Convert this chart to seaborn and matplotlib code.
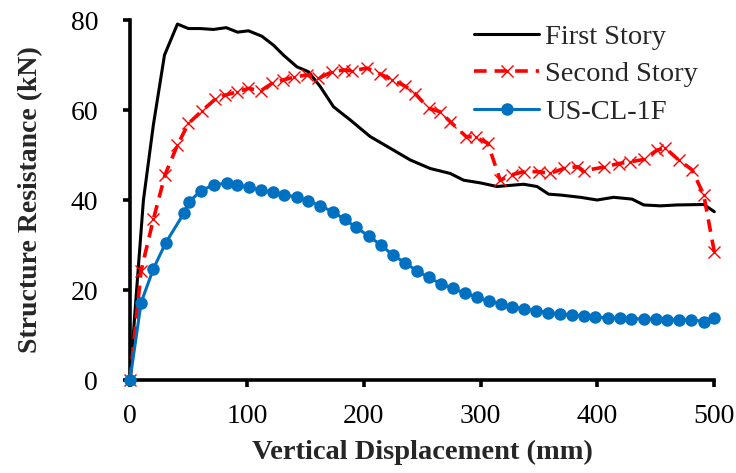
import matplotlib
matplotlib.use("Agg")
import matplotlib.pyplot as plt
import seaborn as sns
import pandas as pd

# Load-displacement curves (displacement in mm, resistance in kN)
first_x = [0, 4.5, 11.5, 20, 29.5, 40.6, 50, 60, 71.4, 82.3, 92, 101.4, 112.8, 122.8,
           131.3, 142.8, 152.7, 162.8, 174.2, 188.4, 205.5, 222.7, 239.8, 256.9, 274,
           285.5, 299.8, 314, 336.8, 348.3, 358.2, 368.4, 385.4, 399.7, 413.9, 429.6,
           439.6, 453.9, 468.2, 491, 500]
first_y = [0, 16, 40, 56.7, 72.2, 79.1, 78.1, 78.1, 77.9, 78.3, 77.3, 77.6, 76.4, 74.4,
           72.2, 69.6, 68.5, 65.2, 60.7, 57.8, 54.1, 51.5, 48.9, 47, 45.9,
           44.4, 43.8, 43, 43.5, 43, 41.3, 41.1, 40.6, 40, 40.6, 40.2,
           38.9, 38.7, 38.9, 39, 37.4]

second_x = [0, 9.5, 20, 30, 40.6, 50, 61.5, 72.9, 81.4, 91.4, 101.4, 112, 121.4, 131.3,
            140.5, 151.4, 161.3, 172.8, 182.7, 189.9, 202.7, 214.1, 224.1, 235.5, 244.1,
            255.5, 265.5, 274, 287.6, 296.2, 306.2, 316.8, 326.8, 336.8, 349.7, 359.6,
            371.1, 382.5, 388.2, 405.3, 418.2, 428.2, 439.6, 451, 458.2, 469.5, 481,
            491, 500]
second_y = [0, 24.3, 35.7, 45.6, 52.2, 57, 59.8, 62.4, 63.3, 64, 64.8, 64.3, 65.9, 66.7,
            67.3, 67.8, 67, 68.5, 68.9, 68.7, 69.3, 68, 66.7, 65.3, 63.6,
            60.4, 59.6, 57.4, 54.1, 53.9, 52.6, 44.4, 45.6, 46.3, 46.3, 45.9,
            47, 47.4, 46.5, 47.3, 48.1, 48.5, 49, 51.1, 51.5, 48.9, 46.7,
            41.1, 28.5]

us_x = [0, 9.5, 20, 30.6, 46, 50.4, 60.6, 71.6, 82.8, 91.4, 102, 112.2, 122.2, 132.2,
        142.8, 152.7, 162.8, 173.5, 183.6, 193.6, 204.1, 214.7, 224.7, 235, 245.2,
        255.5, 265.8, 276, 286.3, 296.6, 306.8, 317.1, 327.1, 337.4, 347.7, 357.9,
        368.2, 378.4, 388.2, 398.2, 408.7, 419, 429, 439.6, 449.8, 459.9, 470.1,
        480.4, 490.9, 500]
us_y = [0, 17.2, 24.7, 30.5, 37, 39.6, 42, 43.4, 43.7, 43.4, 42.8, 42.2, 41.7, 41.2,
        40.6, 39.8, 38.7, 37.4, 35.7, 33.9, 32, 30, 27.8, 26.1, 24.3,
        22.8, 21.4, 20.4, 19.3, 18.4, 17.6, 16.9, 16.3, 15.8, 15.4, 15,
        14.7, 14.4, 14.2, 14, 13.8, 13.7, 13.6, 13.6, 13.5, 13.4, 13.3,
        13.4, 13, 13.7]

x_ticks = [0, 100, 200, 300, 400, 500]
y_ticks = [0, 20, 40, 60, 80]

sns.set_style("ticks")
plt.rcParams["font.family"] = ["Liberation Serif", "DejaVu Serif"]

fig = plt.figure(figsize=(7.36, 4.73), dpi=100)
ax = fig.add_axes([130 / 736, 1 - 380 / 473, (714.3 - 130) / 736, (380 - 20) / 473])

df1 = pd.DataFrame({"x": first_x, "y": first_y})
df2 = pd.DataFrame({"x": second_x, "y": second_y})
df3 = pd.DataFrame({"x": us_x, "y": us_y})

sns.lineplot(data=df1, x="x", y="y", ax=ax, sort=False, color="black",
             linewidth=2.2, label="First Story", clip_on=False, zorder=3)
sns.lineplot(data=df2, x="x", y="y", ax=ax, sort=False, color="#FF0000",
             linewidth=2.6, dashes=False, linestyle=(0, (3.5, 2.2)),
             marker="x", markersize=9, markeredgewidth=1.0, markeredgecolor="#FF0000",
             label="Second Story", clip_on=False, zorder=4)
sns.lineplot(data=df3, x="x", y="y", ax=ax, sort=False, color="#0070C0",
             linewidth=2.2, marker="o", markersize=9, markeredgewidth=0,
             label="US-CL-1F", clip_on=False, zorder=5)

ax.set_xlim(0, 500)
ax.set_ylim(0, 80)
ax.set_xticks(x_ticks)
ax.set_yticks(y_ticks)
ax.set_xticklabels([str(v) for v in x_ticks])
ax.set_yticklabels([str(v) for v in y_ticks])

for side in ("top", "right"):
    ax.spines[side].set_visible(False)
for side in ("left", "bottom"):
    ax.spines[side].set_linewidth(2.6)
    ax.spines[side].set_color("black")

ax.tick_params(axis="both", direction="out", length=5, width=2.6,
               labelsize=20, colors="black")
ax.tick_params(axis="x", pad=12)
ax.tick_params(axis="y", pad=18)
ax.set_xlabel("Vertical Displacement (mm)", fontsize=20.5, fontweight="bold", labelpad=8)
ax.set_ylabel("Structure Resistance (kN)", fontsize=20, fontweight="bold", labelpad=20)

leg = ax.legend(loc="upper left", bbox_to_anchor=(474 / 736, 1 - 24 / 473),
                bbox_transform=fig.transFigure, frameon=False,
                fontsize=20.5, handlelength=2.3, handletextpad=0.2,
                labelspacing=0.4, borderpad=0, borderaxespad=0)

fig.savefig("out.png", dpi=100)
